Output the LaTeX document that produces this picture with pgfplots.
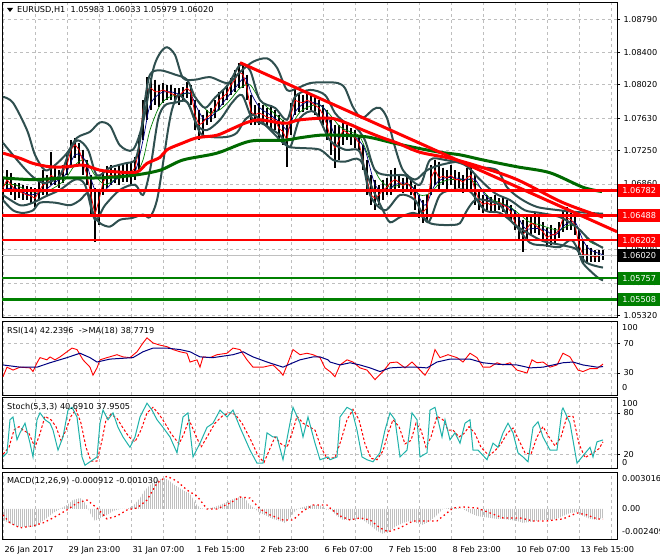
\documentclass[border=0pt]{standalone}
\usepackage{fontspec}
\setmainfont{DejaVu Sans}
\usepackage{pgfplots}
\pgfplotsset{compat=1.18}
\usepackage{pgfplotstable}
\usetikzlibrary{patterns.meta}

\definecolor{mtred}{RGB}{255,0,0}
\definecolor{mtgreen}{RGB}{0,128,0}
\definecolor{mtdgreen}{RGB}{0,105,0}
\definecolor{slate}{RGB}{47,79,79}
\definecolor{mtnavy}{RGB}{0,0,128}
\definecolor{mtteal}{RGB}{32,178,170}
\definecolor{mtsilver}{RGB}{192,192,192}
\definecolor{gridc}{RGB}{190,190,190}

\newcommand{\mtfont}{\fontsize{8.2}{9.5}\selectfont}

% hourly bars (every second bar): index, high, low, close
\pgfplotstableread{
i hi lo c
0 1.0693 1.0667 1.0681
2 1.0702 1.0679 1.0691
4 1.0699 1.0673 1.0685
6 1.0687 1.0667 1.0679
8 1.0687 1.0669 1.0677
10 1.0685 1.0667 1.0675
12 1.0684 1.0667 1.0673
14 1.0682 1.0664 1.0672
16 1.0681 1.0659 1.0669
18 1.0691 1.0667 1.0677
20 1.0702 1.0673 1.0685
22 1.0696 1.0673 1.0687
24 1.0723 1.0685 1.0696
26 1.0708 1.0685 1.0693
28 1.0702 1.0681 1.0693
30 1.0708 1.0687 1.0700
32 1.0720 1.0696 1.0708
34 1.0737 1.0708 1.0726
36 1.0740 1.0716 1.0732
38 1.0734 1.0708 1.0726
40 1.0726 1.0696 1.0712
42 1.0714 1.0685 1.0696
44 1.0696 1.0650 1.0673
46 1.0681 1.0618 1.0650
48 1.0679 1.0638 1.0667
50 1.0700 1.0673 1.0688
52 1.0707 1.0681 1.0695
54 1.0708 1.0685 1.0696
56 1.0705 1.0687 1.0695
58 1.0708 1.0685 1.0696
60 1.0709 1.0688 1.0699
62 1.0710 1.0688 1.0699
64 1.0712 1.0685 1.0699
66 1.0718 1.0691 1.0705
68 1.0743 1.0702 1.0726
70 1.0784 1.0737 1.0773
72 1.0811 1.0761 1.0796
74 1.0810 1.0773 1.0798
76 1.0808 1.0778 1.0794
78 1.0802 1.0776 1.0794
80 1.0804 1.0781 1.0796
82 1.0802 1.0784 1.0794
84 1.0802 1.0784 1.0792
86 1.0798 1.0781 1.0790
88 1.0798 1.0778 1.0789
90 1.0799 1.0784 1.0794
92 1.0805 1.0787 1.0798
94 1.0802 1.0778 1.0794
96 1.0784 1.0749 1.0767
98 1.0773 1.0737 1.0755
100 1.0767 1.0743 1.0758
102 1.0773 1.0755 1.0764
104 1.0775 1.0758 1.0767
106 1.0784 1.0763 1.0775
108 1.0794 1.0773 1.0784
110 1.0796 1.0778 1.0788
112 1.0802 1.0784 1.0792
114 1.0810 1.0790 1.0802
116 1.0819 1.0794 1.0808
118 1.0828 1.0798 1.0817
120 1.0825 1.0798 1.0814
122 1.0814 1.0784 1.0798
124 1.0790 1.0755 1.0770
126 1.0778 1.0755 1.0767
128 1.0781 1.0755 1.0769
130 1.0778 1.0755 1.0767
132 1.0775 1.0753 1.0764
134 1.0778 1.0751 1.0763
136 1.0773 1.0749 1.0761
138 1.0767 1.0737 1.0751
140 1.0761 1.0732 1.0747
142 1.0755 1.0706 1.0737
144 1.0781 1.0743 1.0767
146 1.0796 1.0767 1.0784
148 1.0792 1.0770 1.0782
150 1.0790 1.0770 1.0781
152 1.0794 1.0773 1.0784
154 1.0790 1.0773 1.0782
156 1.0790 1.0767 1.0778
158 1.0784 1.0761 1.0775
160 1.0778 1.0755 1.0767
162 1.0773 1.0737 1.0755
164 1.0761 1.0720 1.0737
166 1.0755 1.0705 1.0728
168 1.0755 1.0714 1.0737
170 1.0761 1.0732 1.0749
172 1.0755 1.0737 1.0746
174 1.0751 1.0732 1.0743
176 1.0749 1.0728 1.0740
178 1.0743 1.0726 1.0734
180 1.0732 1.0702 1.0714
182 1.0714 1.0673 1.0691
184 1.0696 1.0661 1.0673
186 1.0691 1.0655 1.0669
188 1.0685 1.0661 1.0673
190 1.0691 1.0667 1.0679
192 1.0693 1.0673 1.0682
194 1.0702 1.0673 1.0688
196 1.0705 1.0679 1.0691
198 1.0696 1.0681 1.0688
200 1.0693 1.0675 1.0684
202 1.0696 1.0679 1.0687
204 1.0693 1.0673 1.0682
206 1.0685 1.0655 1.0669
208 1.0673 1.0646 1.0658
210 1.0667 1.0640 1.0653
212 1.0673 1.0644 1.0658
214 1.0708 1.0673 1.0693
216 1.0714 1.0685 1.0702
218 1.0712 1.0679 1.0693
220 1.0705 1.0685 1.0695
222 1.0702 1.0679 1.0693
224 1.0708 1.0685 1.0696
226 1.0702 1.0679 1.0691
228 1.0700 1.0681 1.0691
230 1.0696 1.0675 1.0688
232 1.0705 1.0679 1.0693
234 1.0710 1.0677 1.0696
236 1.0696 1.0661 1.0679
238 1.0679 1.0655 1.0667
240 1.0673 1.0652 1.0662
242 1.0673 1.0655 1.0664
244 1.0671 1.0653 1.0661
246 1.0673 1.0653 1.0662
248 1.0669 1.0655 1.0664
250 1.0671 1.0653 1.0661
252 1.0667 1.0650 1.0659
254 1.0661 1.0644 1.0653
256 1.0655 1.0632 1.0641
258 1.0650 1.0620 1.0632
260 1.0644 1.0606 1.0626
262 1.0650 1.0620 1.0634
264 1.0650 1.0626 1.0640
266 1.0652 1.0629 1.0638
268 1.0650 1.0626 1.0634
270 1.0641 1.0620 1.0630
272 1.0634 1.0612 1.0623
274 1.0638 1.0614 1.0626
276 1.0634 1.0617 1.0627
278 1.0641 1.0623 1.0632
280 1.0655 1.0630 1.0646
282 1.0659 1.0632 1.0646
284 1.0652 1.0632 1.0644
286 1.0650 1.0626 1.0638
288 1.0632 1.0603 1.0614
290 1.0620 1.0593 1.0603
292 1.0614 1.0594 1.0603
294 1.0611 1.0594 1.0602
296 1.0609 1.0594 1.0600
298 1.0609 1.0594 1.0602
300 1.0609 1.0597 1.0602
}\bars

\pgfplotstableread{
i v
0 1.0722
8.5 1.0716
15 1.0710
23.5 1.0706
32 1.0706
40 1.0708
48.5 1.0702
57 1.0700
67 1.0700
72 1.0710
78.5 1.0717
82 1.0726
90 1.0734
97 1.0740
107 1.0743
115 1.0751
122 1.0758
128.5 1.0761
137 1.0758
142 1.0757
148.5 1.0761
163.5 1.0763
172 1.0757
180 1.0749
188.5 1.0741
197 1.0734
208.5 1.0723
223.5 1.0716
238.5 1.0706
257 1.0691
280 1.0664
300 1.0647
}\maslow

\pgfplotstableread{
i v
0 1.0693
15 1.0691
32 1.0693
48.5 1.0693
65 1.0696
78.5 1.0702
90 1.0714
107 1.0722
123.5 1.0736
140 1.0737
148.5 1.0740
158.5 1.0743
168.5 1.0743
182 1.0741
195 1.0734
207 1.0728
218.5 1.0723
228.5 1.0720
240 1.0714
257 1.0706
273.5 1.0699
290 1.0682
299.5 1.0677
}\malong

\pgfplotstableread{
i v
0 1.0679
6 1.0681
13.5 1.0673
21 1.0679
26 1.0688
31 1.0696
36 1.0720
41 1.0714
46 1.0679
51 1.0679
56 1.0691
61 1.0696
66 1.0700
70 1.0737
73.5 1.0778
78.5 1.0792
83.5 1.0794
88.5 1.0791
93.5 1.0792
97 1.0775
101 1.0761
106 1.0769
111 1.0784
116 1.0798
121 1.0810
124.5 1.0790
128.5 1.0775
133.5 1.0767
138.5 1.0758
142.5 1.0749
146 1.0770
151 1.0781
156 1.0781
161 1.0773
166 1.0743
171 1.0743
176 1.0741
181 1.0726
186 1.0685
191 1.0677
196 1.0685
201 1.0687
206 1.0679
211 1.0661
216 1.0685
221 1.0693
226 1.0693
231 1.0691
236 1.0691
241 1.0673
246 1.0664
251 1.0661
256 1.0653
261 1.0634
266 1.0634
271 1.0632
276 1.0626
281 1.0638
286 1.0641
290 1.0620
293.5 1.0609
300 1.0603
}\mablue

\pgfplotstableread{
i v
0 1.0685
6 1.0685
13.5 1.0677
21 1.0677
26 1.0682
31 1.0691
36 1.0708
41 1.0714
46 1.0696
51 1.0685
56 1.0691
61 1.0694
66 1.0696
70 1.0714
73.5 1.0749
78.5 1.0778
83.5 1.0788
88.5 1.0790
93.5 1.0792
98.5 1.0781
103.5 1.0769
108.5 1.0773
113.5 1.0784
118.5 1.0798
123.5 1.0802
128.5 1.0784
133.5 1.0773
138.5 1.0763
143.5 1.0755
148.5 1.0770
153.5 1.0777
158.5 1.0778
163.5 1.0767
168.5 1.0753
173.5 1.0747
178.5 1.0741
183.5 1.0714
188.5 1.0691
193.5 1.0682
198.5 1.0685
203.5 1.0685
208.5 1.0673
213.5 1.0675
218.5 1.0687
223.5 1.0691
228.5 1.0691
233.5 1.0691
238.5 1.0682
243.5 1.0669
248.5 1.0664
253.5 1.0659
258.5 1.0650
263.5 1.0641
268.5 1.0638
273.5 1.0634
278.5 1.0632
283.5 1.0638
288.5 1.0632
293.5 1.0618
300 1.0612
}\magreen

\pgfplotstableread{
i v
0 1.0788
5 1.0781
12 1.0749
16 1.0720
21 1.0702
26 1.0708
32 1.0722
37 1.0740
43.5 1.0747
48.5 1.0758
53.5 1.0754
58.5 1.0731
65 1.0726
70 1.0758
75 1.0819
78.5 1.0839
82 1.0846
86 1.0837
90 1.0810
96 1.0808
103.5 1.0811
112.5 1.0804
118.5 1.0817
125 1.0829
132 1.0833
137 1.0822
142 1.0796
147 1.0798
153.5 1.0804
161 1.0805
167.5 1.0804
171 1.0798
175 1.0776
179.5 1.0763
185 1.0773
188.5 1.0775
192 1.0763
196 1.0729
200 1.0702
206 1.0691
212 1.0702
218.5 1.0708
228.5 1.0712
237 1.0706
247 1.0702
252 1.0682
258.5 1.0669
267 1.0659
278.5 1.0655
287 1.0653
300 1.0651
}\bbup

\pgfplotstableread{
i v
0 1.0667
5 1.0655
10 1.0652
15 1.0655
18.5 1.0664
26 1.0664
33.5 1.0661
38.5 1.0667
42.5 1.0675
45 1.0652
48.5 1.0640
53.5 1.0636
58.5 1.0644
64.5 1.0646
70 1.0650
73.5 1.0647
77 1.0667
80 1.0710
82.5 1.0749
84.5 1.0773
87.5 1.0790
91 1.0784
93.5 1.0776
98.5 1.0746
103.5 1.0741
112 1.0741
117 1.0746
121 1.0761
125 1.0767
128.5 1.0761
135 1.0746
140 1.0734
143.5 1.0729
148.5 1.0728
158.5 1.0726
165 1.0714
171 1.0712
178.5 1.0714
185 1.0679
190 1.0655
193.5 1.0641
198.5 1.0647
205 1.0652
210 1.0647
213.5 1.0640
218.5 1.0638
225 1.0638
228.5 1.0640
232 1.0655
236 1.0667
241 1.0667
248.5 1.0661
255 1.0640
262 1.0629
270 1.0619
280 1.0614
287 1.0609
290 1.0593
297 1.0577
300 1.0573
}\bblo

\pgfplotstableread{
i v
0 1.0734
8.5 1.0710
15 1.0694
21 1.0687
28.5 1.0696
33.5 1.0726
37.5 1.0737
42.5 1.0726
47 1.0696
53.5 1.0705
61 1.0710
66 1.0714
68.5 1.0737
71 1.0784
73.5 1.0814
78.5 1.0819
86 1.0814
92 1.0808
96 1.0788
101 1.0775
106 1.0787
112.5 1.0802
118.5 1.0825
123.5 1.0819
128.5 1.0784
136 1.0775
142 1.0761
146 1.0788
153.5 1.0796
161 1.0790
166 1.0769
171 1.0758
176 1.0753
181 1.0737
186 1.0702
193.5 1.0696
201 1.0696
208.5 1.0685
213.5 1.0714
221 1.0714
231 1.0708
238.5 1.0691
246 1.0675
253.5 1.0667
261 1.0655
268.5 1.0652
278.5 1.0647
287 1.0635
293.5 1.0620
300 1.0611
}\bbupin

\pgfplotstableread{
i v
0 1.0673
8.5 1.0661
15 1.0664
21 1.0671
28.5 1.0679
36 1.0691
41 1.0685
46 1.0644
51 1.0661
58.5 1.0679
66 1.0685
70 1.0673
73.5 1.0702
77.5 1.0761
81 1.0778
86 1.0781
92 1.0782
97 1.0755
102 1.0749
108.5 1.0761
114.5 1.0781
119.5 1.0790
124.5 1.0763
131 1.0755
138.5 1.0743
143.5 1.0729
148.5 1.0763
156 1.0770
163.5 1.0737
171 1.0726
178.5 1.0723
183.5 1.0673
191 1.0655
198.5 1.0673
206 1.0667
212.5 1.0641
218.5 1.0673
226 1.0679
233.5 1.0677
241 1.0655
248.5 1.0652
256 1.0638
263.5 1.0617
271 1.0614
278.5 1.0612
284.5 1.0620
291 1.0595
300 1.0588
}\bbloin

\pgfplotstableread{
i v
0 25
2 38
5 34
8.5 38
13.5 37
15 32
17 44
18.5 51
22 48
23.5 52
26 48
28.5 52
32 59
34.5 64
37 62
40 48
43.5 38
45 27
47 37
48.5 48
52 51
57 55
60 52
63.5 51
67 59
70 71
72 78
75 71
78.5 68
82 66
85 62
88.5 59
92 57
93.5 45
97 48
98.5 38
100 52
103.5 51
107 55
112 57
115 64
118.5 62
122 48
125 38
130 38
135 41
138.5 32
140 27
142.5 44
145 62
148.5 55
152 57
155 55
158.5 51
161 37
162.5 34
163.5 32
166 25
168.5 41
172 48
175 45
178.5 37
182 34
186 21
190 32
193.5 44
197 45
201 37
204.5 45
208.5 34
211 27
213.5 38
216 62
218.5 51
222.5 55
227 51
230 45
233.5 57
237 51
240 38
243.5 38
247 44
250 41
253.5 44
257 34
262 30
264.5 48
267 44
270 45
273.5 38
277 41
280 57
283.5 52
285 45
287.5 34
290 32
293.5 36
297 36
300 42.24
}\rsi

\pgfplotstableread{
i v
0 41
8.5 38
13.5 38
17 38
23.5 44
32 51
38.5 57
43.5 51
47 45
53.5 49
65 51
70 59
75 64
82 64
88.5 62
93.5 59
98.5 52
105 51
115 55
120 59
125 52
132 45
140 38
145 44
148.5 48
155 52
158.5 52
162.5 48
163.5 45
168.5 41
173.5 44
178.5 41
183.5 37
188.5 32
193.5 37
200 38
207 38
212 37
217 45
223.5 49
233.5 49
240 44
247 42
257 41
263.5 37
270 38
280 44
285 45
290 41
297 38
300 38.77
}\rsima

\pgfplotstableread{
i v
0 16
2 22
3.5 70
5 74
7 41
8.5 51
11 65
13.5 36
15 16
17 70
18.5 80
21 70
23.5 65
25 55
27.5 26
30 45
32.5 84
34.5 88
37 74
39.5 16
41 4
43.5 9
47 16
48.5 65
50 84
52.5 70
55 80
57.5 59
60 45
63.5 30
66 45
68.5 74
72 94
74.5 84
77 70
80 59
83.5 45
87 22
90 74
92.5 80
95 16
98.5 36
102 59
105 65
108.5 84
112 74
115 84
118.5 59
123.5 26
127 7
130 7
132 51
135 45
137 45
140 12
143.5 65
145 88
148.5 65
150 45
152.5 74
156 36
158.5 12
162.5 16
163.5 12
167 16
168.5 74
172 88
174.5 84
177 55
179.5 16
182 12
185 9
188.5 22
191 55
193.5 80
196 70
198.5 16
202 26
204.5 80
207 70
208.5 16
212 22
213.5 84
216 88
219.5 45
221 70
223.5 41
226 51
228.5 36
231 65
233.5 70
235 26
237.5 26
242 12
245 36
247.5 30
250 51
252.5 65
255 51
257.5 22
260 16
262.5 9
265 59
267.5 67
270 45
273.5 26
277 26
279.5 84
280 87
283.5 65
287 7
289.5 16
293.5 30
295 16
297 38
300 40.69
}\stmain

\pgfplotstableread{
i v
0 20
3 30
5.5 55
8 60
10 55
13 50
16 30
18.5 50
21 75
24 70
26.5 60
29 40
31.5 55
34 75
36.5 85
39 65
41.5 30
44 10
47 10
49.5 40
51.5 70
54 78
57 72
60 58
63 45
66 38
69 55
72 80
75 88
78 78
81 65
84 50
88 35
90.5 50
93 70
96 50
99 30
103 50
106 65
109.5 75
113 80
116 78
119.5 65
124 40
127.5 18
130.5 8
133 25
136 45
139 35
142 30
145 55
147 75
150 65
153 60
156 55
159 30
162 14
166 15
169 40
172 70
175 85
178 70
181 35
184 14
187 12
190 25
192.5 50
195 70
198 60
201 35
204 40
206.5 65
209 55
211.5 30
214 45
217 75
220 70
222.5 55
225 55
228 45
230.5 50
233 60
236 50
239 30
243 18
246 25
249 35
252 50
255 58
258 40
261 22
264 20
267 45
270 60
273 45
276 32
279 45
282 75
285 75
288 35
291 15
295 22
298 28
300 37.95
}\stsig

\pgfplotstableread{
i v
0 -0.0011
5 -0.0016
8.5 -0.0018
13.5 -0.0018
16 -0.0018
18.5 -0.0014
22 -0.0009
25 -0.0004
28.5 0.0000
32 0.0004
35 0.0009
38.5 0.0011
40 0.0009
42 0.0003
43.5 -0.0004
46 -0.0012
48.5 -0.0009
52 -0.0006
55 -0.0002
58.5 0.0000
62 0.0000
65 0.0003
68.5 0.0011
71 0.0019
73.5 0.0024
76 0.0028
78.5 0.0030
81 0.0031
83.5 0.0028
86 0.0024
88.5 0.0021
91 0.0018
93.5 0.0016
96 0.0006
98.5 0.0001
101 0.0000
106 0.0002
108.5 0.0004
112 0.0007
115 0.0010
118.5 0.0012
121 0.0011
123.5 0.0004
126 0.0000
128.5 -0.0004
132 -0.0007
135 -0.0010
138.5 -0.0012
141 -0.0014
143.5 -0.0009
146 -0.0002
148.5 0.0001
152 0.0003
155 0.0004
158.5 0.0004
162 -0.0001
163.5 0.0000
167 -0.0007
170 -0.0011
173.5 -0.0011
177 -0.0010
180 -0.0011
183.5 -0.0016
187 -0.0022
190 -0.0025
193.5 -0.0022
197 -0.0017
200 -0.0014
203.5 -0.0012
207 -0.0014
210 -0.0016
213.5 -0.0012
217 -0.0006
220 0.0000
223.5 0.0001
227 0.0001
230 0.0000
233.5 -0.0004
237 -0.0007
240 -0.0008
243.5 -0.0009
247 -0.0010
250 -0.0010
253.5 -0.0011
257 -0.0012
260 -0.0014
263.5 -0.0013
267 -0.0012
270 -0.0011
273.5 -0.0011
277 -0.0010
280 -0.0007
283.5 -0.0004
287 -0.0003
290 -0.0007
293.5 -0.0010
297 -0.0011
300 -0.0009
}\macdh

\pgfplotstableread{
i v
0 -0.0006
3.5 -0.0014
8.5 -0.0019
15 -0.0017
20 -0.0014
25 -0.0009
32 -0.0001
37 0.0006
42 0.0009
47 0.0001
52 -0.0010
57 -0.0007
62 -0.0001
67 0.0001
72 0.0009
77 0.0026
82 0.0033
87 0.0028
92 0.0019
97 0.0013
102 0.0000
107 0.0000
113.5 0.0006
118.5 0.0012
123.5 0.0011
128.5 0.0000
133.5 -0.0006
140 -0.0011
145 -0.0011
150 -0.0002
155 0.0004
162 0.0004
163.5 0.0001
168.5 -0.0007
173.5 -0.0011
178.5 -0.0009
183.5 -0.0011
188.5 -0.0019
192.5 -0.0023
198.5 -0.0019
205 -0.0012
212 -0.0012
217 -0.0012
222 -0.0004
225 0.0001
230 0.0002
237 0.0001
243.5 -0.0004
250 -0.0009
258.5 -0.0009
265 -0.0012
272 -0.0012
280 -0.0010
287 -0.0004
292 -0.0006
297 -0.0010
300 -0.00103
}\macds

\pgfplotsset{
  mtpanel/.style={
    scale only axis, width=615bp, anchor=north west,
    xmin=-0.5, xmax=307,
    axis line style={black, line width=0.9bp},
    xtick={0,32,...,288}, minor xtick={16,48,...,304},
    xticklabels={}, xtick style={draw=none}, minor tick length=0pt,
    grid=both,
    major grid style={gridc, dash pattern=on 3bp off 3bp, line width=0.7bp},
    minor grid style={gridc, dash pattern=on 3bp off 3bp, line width=0.7bp},
    tick label style={font=\mtfont, /pgf/number format/assume math mode=true},
    ytick pos=right, yticklabel pos=right,
    tick align=outside, major tick length=3bp,
    ytick style={black, line width=0.7bp},
    clip mode=individual,
  },
}

\begin{document}
\begin{tikzpicture}
\useasboundingbox (0,0) rectangle (660bp,560bp);

% ---------- price window ----------
\begin{axis}[mtpanel, at={(2bp,558bp)}, height=315bp,
  ymin=1.05301, ymax=1.08990,
  ytick={1.0532,1.0570,1.0609,1.0648,1.0686,1.0725,1.0763,1.0802,1.0840,1.0879},
  yticklabels={1.05320,1.05700,1.06090,1.06480,1.06860,1.07250,1.07630,1.08020,1.08400,1.08790},
]
\addplot[only marks, mark size=0pt, error bars/.cd, y dir=minus, y explicit,
  error mark=none, error bar style={black, line width=1.3bp}]
  table[x=i, y=hi, y error expr=\thisrow{hi}-\thisrow{lo}] {\bars};
\addplot[mtgreen, line width=0.7bp, smooth] table[x=i,y=v] {\magreen};
\addplot[mtnavy, line width=0.7bp, smooth] table[x=i,y=v] {\mablue};
\addplot[mtred, line width=0.8bp] table[x=i,y=c] {\bars};
\addplot[slate, line width=2bp, smooth] table[x=i,y=v] {\bbupin};
\addplot[slate, line width=2bp, smooth] table[x=i,y=v] {\bbloin};
\addplot[slate, line width=2bp, smooth] table[x=i,y=v] {\bbup};
\addplot[slate, line width=2bp, smooth] table[x=i,y=v] {\bblo};
\addplot[mtdgreen, line width=3bp, smooth] table[x=i,y=v] {\malong};
\addplot[mtred, line width=3bp, smooth] table[x=i,y=v] {\maslow};
\addplot[mtred, line width=3bp] coordinates {(118.5,1.0828) (307,1.0630)};
\addplot[mtsilver, line width=1bp] coordinates {(-0.5,1.06020) (307,1.06020)};
\addplot[mtred, line width=2.5bp] coordinates {(-0.5,1.06782) (307,1.06782)};
\addplot[mtred, line width=2.5bp] coordinates {(-0.5,1.06488) (307,1.06488)};
\addplot[mtred, line width=2.5bp] coordinates {(-0.5,1.06202) (307,1.06202)};
\addplot[mtgreen, line width=2.5bp] coordinates {(-0.5,1.05757) (307,1.05757)};
\addplot[mtgreen, line width=2.5bp] coordinates {(-0.5,1.05508) (307,1.05508)};
\coordinate (t1) at (axis cs:307,1.06782);
\coordinate (t2) at (axis cs:307,1.06488);
\coordinate (t3) at (axis cs:307,1.06202);
\coordinate (t4) at (axis cs:307,1.06020);
\coordinate (t5) at (axis cs:307,1.05757);
\coordinate (t6) at (axis cs:307,1.05508);
\end{axis}

% ---------- RSI window ----------
\begin{axis}[mtpanel, at={(2bp,239bp)}, height=74bp,
  ymin=0, ymax=101, ytick={30,70}]
\addplot[mtred, line width=0.9bp] table[x=i,y=v] {\rsi};
\addplot[mtnavy, line width=1bp] table[x=i,y=v] {\rsima};
\end{axis}

% ---------- Stochastic window ----------
\begin{axis}[mtpanel, at={(2bp,163bp)}, height=71bp,
  ymin=0, ymax=103, ytick={20,80}]
\addplot[mtred, line width=1bp, dash pattern=on 2.5bp off 2bp] table[x=i,y=v] {\stsig};
\addplot[mtteal, line width=1bp] table[x=i,y=v] {\stmain};
\end{axis}

% ---------- MACD window ----------
\begin{axis}[mtpanel, at={(2bp,88bp)}, height=67bp,
  ymin=-0.00302, ymax=0.00372, ytick=\empty, ymajorgrids=false,
  xtick style={black, line width=0.7bp}, xtick pos=bottom,
  xticklabels={26 Jan 2017,29 Jan 23:00,31 Jan 07:00,1 Feb 15:00,2 Feb 23:00,6 Feb 07:00,7 Feb 15:00,8 Feb 23:00,10 Feb 07:00,13 Feb 15:00},
  xticklabel style={anchor=north west, xshift=-2bp, yshift=-1bp},
]
\addplot[draw=none, pattern={Lines[angle=90,distance=2bp,line width=1bp]}, pattern color=mtsilver]
  table[x=i,y=v] {\macdh} \closedcycle;
\addplot[mtred, line width=1.3bp, dash pattern=on 1.5bp off 3bp] table[x=i,y=v] {\macds};
\end{axis}

% ---------- texts and price tags ----------
\fill (7bp,552bp) -- (13bp,552bp) -- (10bp,548bp) -- cycle;
\node[anchor=west, inner sep=0pt, font=\mtfont] at (17bp,550bp) {EURUSD,H1\ \ 1.05983 1.06033 1.05979 1.06020};
\node[anchor=west, inner sep=0pt, font=\mtfont] at (7bp,229bp) {RSI(14) 42.2396\ \ ->MA(18) 38.7719};
\node[anchor=west, inner sep=0pt, font=\mtfont] at (7bp,153bp) {Stoch(5,3,3) 40.6910 37.9505};
\node[anchor=west, inner sep=0pt, font=\mtfont] at (7bp,79bp) {MACD(12,26,9) -0.000912 -0.001030};

\node[anchor=west, inner sep=0pt, font=\mtfont] at (622bp,232bp) {100};
\node[anchor=west, inner sep=0pt, font=\mtfont] at (622bp,172bp) {0};
\node[anchor=west, inner sep=0pt, font=\mtfont] at (622bp,156bp) {100};
\node[anchor=west, inner sep=0pt, font=\mtfont] at (622bp,97bp) {0};
\node[anchor=west, inner sep=0pt, font=\mtfont] at (622bp,81bp) {0.003016};
\node[anchor=west, inner sep=0pt, font=\mtfont] at (622bp,51bp) {0.00};
\node[anchor=west, inner sep=0pt, font=\mtfont] at (622bp,28bp) {-0.002409};

\tikzset{tag/.style={anchor=west, fill=#1, text=white, font=\mtfont, minimum width=42bp, minimum height=13bp, inner sep=0pt}}
\node[tag=mtred] at ([xshift=1bp]t1) {1.06782};
\node[tag=mtred] at ([xshift=1bp]t2) {1.06488};
\node[tag=mtred] at ([xshift=1bp]t3) {1.06202};
\node[tag=black] at ([xshift=1bp]t4) {1.06020};
\node[tag=mtgreen] at ([xshift=1bp]t5) {1.05757};
\node[tag=mtgreen] at ([xshift=1bp]t6) {1.05508};
\end{tikzpicture}
\end{document}
